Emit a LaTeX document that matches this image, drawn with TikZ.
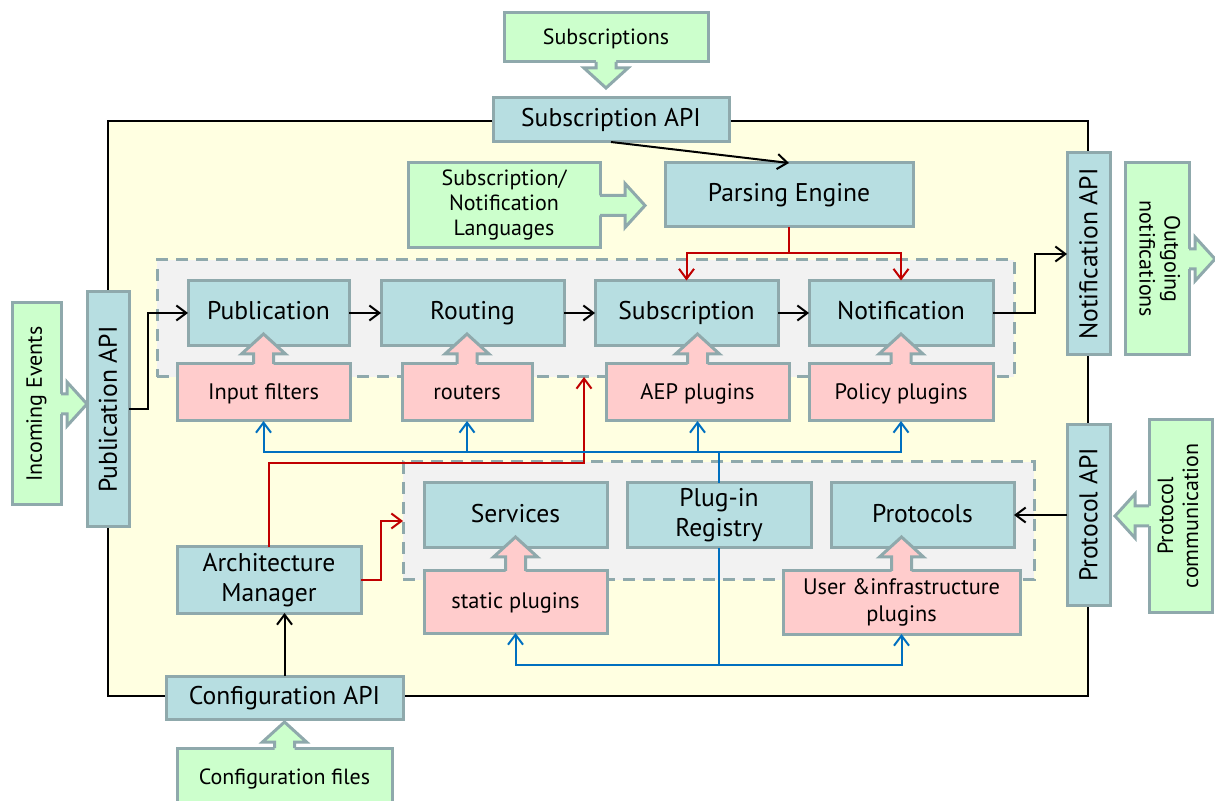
\documentclass[tikz,border=0pt]{standalone}
\usepackage{fontspec}
\setmainfont{PT Sans}
\usepackage{tikz}
\usetikzlibrary{arrows.meta,positioning,calc}
\definecolor{paper}{HTML}{FFFFE1}
\definecolor{coreblue}{HTML}{B7DEE1}
\definecolor{plugpink}{HTML}{FFCCCC}
\definecolor{feedgreen}{HTML}{CCFFCC}
\definecolor{edgegray}{HTML}{8FA9AC}
\definecolor{regiongray}{HTML}{F2F2F2}
\definecolor{ctrlred}{HTML}{C00000}
\definecolor{plugblue}{HTML}{0070C0}
\tikzset{
  corebox/.style={
    rectangle, draw=edgegray, fill=coreblue, line width=1.5pt,
    font=\fontsize{12.8}{15}\selectfont, align=center,
    inner sep=2pt, outer sep=0pt
  },
  plugbox/.style={
    rectangle, draw=edgegray, fill=plugpink, line width=1.5pt,
    font=\fontsize{11.2}{13.5}\selectfont, align=center,
    inner sep=2pt, outer sep=0pt
  },
  feedbox/.style={
    rectangle, draw=edgegray, fill=feedgreen, line width=1.5pt,
    font=\fontsize{11}{12.5}\selectfont, align=center,
    inner sep=2pt, outer sep=0pt
  },
  tline/.style={text height=0.9em, text depth=0.2em},
  region/.style={
    rectangle, draw=edgegray, fill=regiongray, line width=1.5pt,
    dash pattern=on 6pt off 4pt, outer sep=0pt
  },
  sysbox/.style={rectangle, draw=black, fill=paper, line width=1.2pt},
  wh/.style 2 args={minimum width=#1, minimum height=#2},
  flowarrow/.style={
    -{Straight Barb[length=5pt,width=7.5pt]}, line width=1pt, color=#1
  },
  flowarrow/.default=black,
}
% fat arrow: colour, base point, rotation, length
\newcommand{\fatarrow}[4]{%
  \begin{scope}[shift={#2}, rotate=#3]
    \fill[#1] (-10,3) -- (-10,-#4+20) -- (-22,-#4+20) -- (0,-#4)
      -- (22,-#4+20) -- (10,-#4+20) -- (10,3) -- cycle;
    \draw[edgegray, line width=1.5pt] (-10,0) -- (-10,-#4+20) -- (-22,-#4+20)
      -- (0,-#4) -- (22,-#4+20) -- (10,-#4+20) -- (10,0);
  \end{scope}}

\begin{document}
\begin{tikzpicture}[x=0.5pt, y=-0.5pt]
\useasboundingbox (0,0) rectangle (1215,801);

% System frame and plug-in groups
\node[sysbox, wh={490pt}{287.5pt}] (system) at (598,408.5) {};
\node[region, wh={428.5pt}{58.5pt}] (core) at (585.5,318.5) {};
\node[region, wh={315.5pt}{59pt}] (svcgrp) at (718.5,521) {};

% APIs on the frame
\node[corebox, tline, wh={118pt}{22pt}] (subapi) at (611,120) {Subscription API};
\node[corebox, tline, wh={118.5pt}{21.5pt}] (cfgapi) at (284.5,697.5) {Configuration API};
\node[corebox, wh={21pt}{117.5pt}] (pubapi) at (108,409.5) {\rotatebox{90}{Publication API}};
\node[corebox, wh={21.5pt}{101pt}] (notifapi) at (1088.5,254) {\rotatebox{90}{Notification API}};
\node[corebox, wh={21.5pt}{90pt}] (protapi) at (1088.5,515) {\rotatebox{90}{Protocol API}};

% Engine components
\node[corebox, tline, wh={124pt}{32pt}] (parse) at (789,195) {Parsing Engine};
\node[corebox, tline, wh={80.5pt}{32.5pt}] (pub) at (268.5,313) {Publication};
\node[corebox, tline, wh={91.5pt}{32.5pt}, right=16pt of pub] (rout) {Routing};
\node[corebox, tline, wh={91.5pt}{32.5pt}, right=15.5pt of rout] (subs) {Subscription};
\node[corebox, tline, wh={92pt}{32.5pt}, right=15.5pt of subs] (notif) {Notification};
\node[corebox, tline, wh={91.5pt}{32.5pt}] (svc) at (515.5,515.5) {Services};
\node[corebox, wh={92pt}{32.5pt}, right=10pt of svc] (reg) {Plug-in\\Registry};
\node[corebox, tline, wh={91.5pt}{32.5pt}, right=10pt of reg] (prots) {Protocols};
\node[corebox, wh={92pt}{33pt}] (archm) at (269,580) {Architecture\\Manager};

% Plug-ins
\node[plugbox, tline, wh={86.5pt}{28.5pt}] (inpf) at (263.5,392.5) {Input filters};
\node[plugbox, tline, wh={65pt}{28.5pt}] (routers) at (467,392.5) {routers};
\node[plugbox, tline, wh={91.5pt}{28.5pt}] (aep) at (697.5,392.5) {AEP plugins};
\node[plugbox, tline, wh={92pt}{28.5pt}] (policy) at (901,392.5) {Policy plugins};
\node[plugbox, tline, wh={91.5pt}{31pt}] (static) at (515.5,602) {static plugins};
\node[plugbox, wh={118.5pt}{31.5pt}] (userinf) at (901.5,602.5) {User \&infrastructure\\plugins};

% Inputs and outputs
\node[feedbox, tline, wh={102pt}{24.5pt}] (subsin) at (606,37.5) {Subscriptions};
\node[feedbox, wh={96pt}{42.5pt}] (langs) at (504,205.5) {Subscription/\\Notification\\Languages};
\node[feedbox, wh={24.5pt}{101pt}] (incoming) at (36.5,404) {\rotatebox{90}{Incoming Events}};
\node[feedbox, wh={32pt}{96pt}] (outgoing) at (1157,259)
  {\rotatebox{-90}{\begin{tabular}{@{}c@{}}Outgoing\\notifications\end{tabular}}};
\node[feedbox, wh={31.5pt}{96pt}] (protcomm) at (1180.5,516)
  {\rotatebox{90}{\begin{tabular}{@{}c@{}}Protocol\\communication\end{tabular}}};
\node[feedbox, tline, wh={107.5pt}{29pt}] (cfgfiles) at (284.5,777) {Configuration files};

% Fat arrows
\fatarrow{feedgreen}{(subsin.south)}{180}{26}
\fatarrow{feedgreen}{(langs.east)}{-90}{45}
\fatarrow{feedgreen}{(incoming.east)}{-90}{26}
\fatarrow{feedgreen}{(outgoing.east)}{-90}{26}
\fatarrow{feedgreen}{(protcomm.west)}{90}{34}
\fatarrow{feedgreen}{(cfgfiles.north)}{0}{26}
\fatarrow{plugpink}{(inpf.north)}{0}{30}
\fatarrow{plugpink}{(routers.north)}{0}{30}
\fatarrow{plugpink}{(aep.north)}{0}{30}
\fatarrow{plugpink}{(policy.north)}{0}{30}
\fatarrow{plugpink}{(static.north)}{0}{34}
\fatarrow{plugpink}{(userinf.north)}{0}{34}

% Main flow
\draw[flowarrow] (pubapi.east) -- ++(19,0) |- (pub.west);
\draw[flowarrow] (pub) -- (rout);
\draw[flowarrow] (rout) -- (subs);
\draw[flowarrow] (subs) -- (notif);
\draw[flowarrow] (notif.east) -- ++(42,0) |- (notifapi.west);
\draw[flowarrow] (subapi.south) -- (parse.north);
\draw[flowarrow] (protapi.west) -- (protapi.west -| prots.east);
\draw[flowarrow] (cfgapi.north) -- (cfgapi.north |- archm.south);

% Parsing engine to subscription and notification
\coordinate (rsplit) at (789,253);
\draw[flowarrow=ctrlred] (parse.south) -- (rsplit) -| (subs.north);
\draw[flowarrow=ctrlred] (rsplit) -| (notif.north);

% Architecture manager
\coordinate (rbend) at (584,463);
\draw[flowarrow=ctrlred] (archm.north) |- (rbend) -- (rbend |- core.south);
\draw[flowarrow=ctrlred] (archm.east) -- ++(20,0) |- (svcgrp.west);

% Plug-in registry
\coordinate (bhub) at (reg.north |- 0,452);
\coordinate (blow) at (reg.south |- 0,665);
\draw[flowarrow=plugblue] (reg.north) -- (bhub) -| (inpf.south);
\draw[flowarrow=plugblue] (bhub) -| (routers.south);
\draw[flowarrow=plugblue] (bhub) -| (aep.south);
\draw[flowarrow=plugblue] (bhub) -| (policy.south);
\draw[flowarrow=plugblue] (reg.south) -- (blow) -| (static.south);
\draw[flowarrow=plugblue] (blow) -| (userinf.south);

\end{tikzpicture}
\end{document}
